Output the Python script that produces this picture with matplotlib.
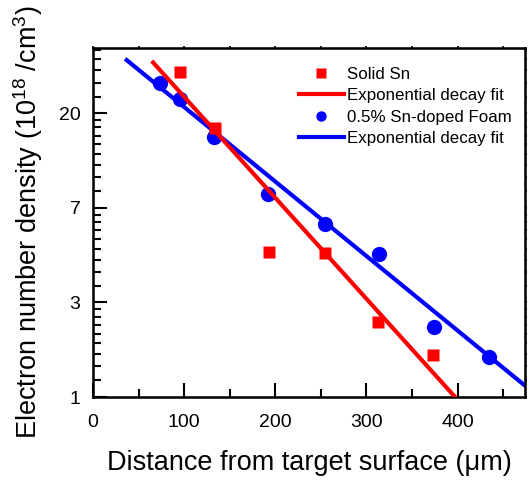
import numpy as np
import matplotlib
matplotlib.use("Agg")
import matplotlib.pyplot as plt
from matplotlib.lines import Line2D
from matplotlib.ticker import FixedLocator, FixedFormatter, MultipleLocator, NullFormatter

plt.rcParams['font.family'] = ['Liberation Sans', 'DejaVu Sans']
plt.rcParams['mathtext.fontset'] = 'custom'
plt.rcParams['mathtext.rm'] = 'Liberation Sans'
plt.rcParams['mathtext.it'] = 'Liberation Sans'

# Solid Sn target
solid_x = [96, 134, 193, 255, 313, 373]
solid_n = [30.9, 17.1, 4.62, 4.58, 2.21, 1.56]

# 0.5% Sn-doped foam target
foam_x = [74, 96, 133, 192, 255, 314, 374, 435]
foam_n = [27.5, 23.3, 15.6, 8.53, 6.21, 4.53, 2.09, 1.53]

# exponential decay fits, n = A * exp(-x / L)
solid_fit_A, solid_fit_L = 69.4, 93.7
foam_fit_A, foam_fit_L = 47.1, 127.0
solid_fit_range = (66, 400)
foam_fit_range = (37, 474)

# y axis is ln(n): majors at e^0..e^3, labelled rounded
ytick_labels = ['1', '3', '7', '20']

dpi = 100
fig = plt.figure(figsize=(529 / dpi, 480 / dpi), dpi=dpi)
ax = fig.add_axes([93 / 529, 1 - 397 / 480, (525 - 93) / 529, (397 - 48) / 480])

ln_scale = dict(functions=(np.log, np.exp))
ax.set_yscale('function', **ln_scale)

xs = np.linspace(*foam_fit_range, 50)
ax.plot(xs, foam_fit_A * np.exp(-xs / foam_fit_L), color='#0000ff', lw=3, zorder=2)
ax.plot(foam_x, foam_n, 'o', color='#0000ff', ms=11, mec='none', zorder=3)
ax.plot(solid_x, solid_n, 's', color='#ff0000', ms=8.5, mec='none', zorder=4)
xs = np.linspace(*solid_fit_range, 50)
ax.plot(xs, solid_fit_A * np.exp(-xs / solid_fit_L), color='#ff0000', lw=3, zorder=5)

ax.set_xlim(0, 474)
ax.set_ylim(1, 40)

majors = np.exp(np.arange(4))
minors = []
for k in range(4):
    lo, hi = np.exp(k), np.exp(k + 1)
    minors += list(lo + (hi - lo) * np.arange(1, 9) / 9)
ax.yaxis.set_major_locator(FixedLocator(majors))
ax.yaxis.set_major_formatter(FixedFormatter(ytick_labels))
ax.yaxis.set_minor_locator(FixedLocator(minors))
ax.yaxis.set_minor_formatter(NullFormatter())
ax.xaxis.set_major_locator(MultipleLocator(100))
ax.xaxis.set_minor_locator(MultipleLocator(50))

ax.tick_params(which='major', direction='in', length=10, width=1.5, labelsize=14, pad=9)
ax.tick_params(axis='x', which='major', pad=12)
ax.tick_params(which='minor', direction='in', length=5.5, width=1.5)
for s in ax.spines.values():
    s.set_linewidth(1.8)

# tiny outward ticks on top and right
top = ax.secondary_xaxis('top')
top.xaxis.set_major_locator(MultipleLocator(50))
top.tick_params(direction='out', length=1.5, width=1.2, labeltop=False)
right = ax.twinx()
right.set_yscale('function', **ln_scale)
right.set_ylim(ax.get_ylim())
right.yaxis.set_major_locator(FixedLocator(list(majors) + minors))
right.yaxis.set_major_formatter(NullFormatter())
right.yaxis.set_minor_locator(FixedLocator([]))
right.tick_params(direction='out', length=1.5, width=1.2)

ax.set_xlabel('Distance from target surface (μm)', fontsize=19.5, labelpad=14)
ax.set_ylabel('Electron number density (10$^{18}$ /cm$^3$)', fontsize=19.5, labelpad=10)

handles = [
    Line2D([], [], ls='none', marker='s', color='#ff0000', ms=6.5, mec='none'),
    Line2D([], [], color='#ff0000', lw=3),
    Line2D([], [], ls='none', marker='o', color='#0000ff', ms=7.5, mec='none'),
    Line2D([], [], color='#0000ff', lw=3),
]
labels = ['Solid Sn', 'Exponential decay fit', '0.5% Sn-doped Foam', 'Exponential decay fit']
ax.legend(handles, labels, loc='upper left', bbox_to_anchor=(299 / 529, 1 - 67 / 480),
          bbox_transform=fig.transFigure, frameon=False, fontsize=12.2,
          handlelength=2.65, handletextpad=0.2, labelspacing=0.37, borderpad=0, borderaxespad=0)

fig.savefig('out.png', dpi=dpi)
